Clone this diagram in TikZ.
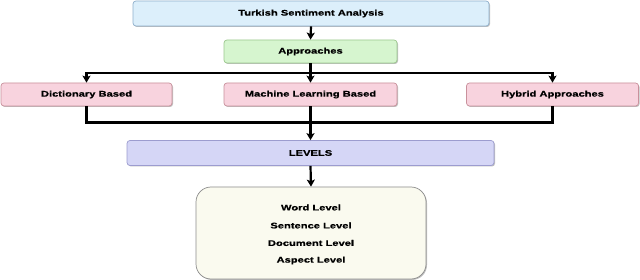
\documentclass[tikz,border=0pt]{standalone}
\usepackage{fontspec}
\setmainfont[FakeStretch=1.36,BoldFeatures={FakeBold=0.6}]{Liberation Sans}
\usetikzlibrary{arrows.meta,shadows}
\definecolor{tsafill}{HTML}{DCEFFB}
\definecolor{tsadraw}{HTML}{8FB0CC}
\definecolor{apfill}{HTML}{D6F5CF}
\definecolor{apdraw}{HTML}{9CC88E}
\definecolor{pkfill}{HTML}{F8D3DE}
\definecolor{pkdraw}{HTML}{C9919C}
\definecolor{lvfill}{HTML}{D5D6F6}
\definecolor{lvdraw}{HTML}{9C9CCF}
\definecolor{btfill}{HTML}{FAFAEF}
\definecolor{btdraw}{HTML}{8C8C8C}
\tikzset{
  box/.style={draw, line width=0.7pt, rounded corners=3pt, inner sep=0pt, anchor=center,
    font=\fontsize{8.2}{10}\selectfont\bfseries,
    drop shadow={shadow xshift=1pt, shadow yshift=-1pt, opacity=0.25, fill=black}},
  conn/.style={line width=2.2pt, black},
  arr/.style={conn, -{Stealth[length=7pt,width=8pt,inset=1.5pt]}},
  lvtext/.style={font=\fontsize{8.2}{10}\selectfont\bfseries, inner sep=0pt, anchor=center}
}
\begin{document}
\begin{tikzpicture}[x=1pt,y=-1pt]
\useasboundingbox (0,0) rectangle (640,280);
\fill[white] (0,0) rectangle (640,280);
\node[box, fill=tsafill, draw=tsadraw, minimum width=356pt, minimum height=25pt] (tsa) at (311,13.5) {Turkish Sentiment Analysis};
\node[box, fill=apfill, draw=apdraw, minimum width=173pt, minimum height=23pt] (appr) at (310.5,51.5) {Approaches};
\node[box, fill=pkfill, draw=pkdraw, minimum width=171pt, minimum height=23pt] (dict) at (86.5,94.5) {Dictionary Based};
\node[box, fill=pkfill, draw=pkdraw, minimum width=173pt, minimum height=23pt] (ml) at (310.5,94.5) {Machine Learning Based};
\node[box, fill=pkfill, draw=pkdraw, minimum width=172pt, minimum height=23pt] (hyb) at (552.5,94.5) {Hybrid Approaches};
\node[box, fill=lvfill, draw=lvdraw, minimum width=367pt, minimum height=25pt] (levels) at (310.5,153) {LEVELS};
\node[box, fill=btfill, draw=btdraw, rounded corners=15pt, minimum width=230pt, minimum height=92pt] (bottom) at (311,233) {};
\node[lvtext] (w) at (311,207.5) {Word Level};
\node[lvtext] (s) at (311,225.5) {Sentence Level};
\node[lvtext] (d) at (311,243) {Document Level};
\node[lvtext] (a) at (311,260.5) {Aspect Level};
\coordinate (split) at (310.5,73);
\coordinate (merge) at (310.5,122.5);
\draw[arr] (tsa.south) -- (appr.north);
\draw[arr] (appr.south) -- (ml.north);
\draw[arr] (split) -| (dict.north);
\draw[arr] (split) -| (hyb.north);
\draw[conn] (dict.south) |- (merge);
\draw[conn] (hyb.south) |- (merge);
\draw[arr] (ml.south) -- (levels.north);
\draw[arr] (levels.south) -- (bottom.north);
\end{tikzpicture}
\end{document}
